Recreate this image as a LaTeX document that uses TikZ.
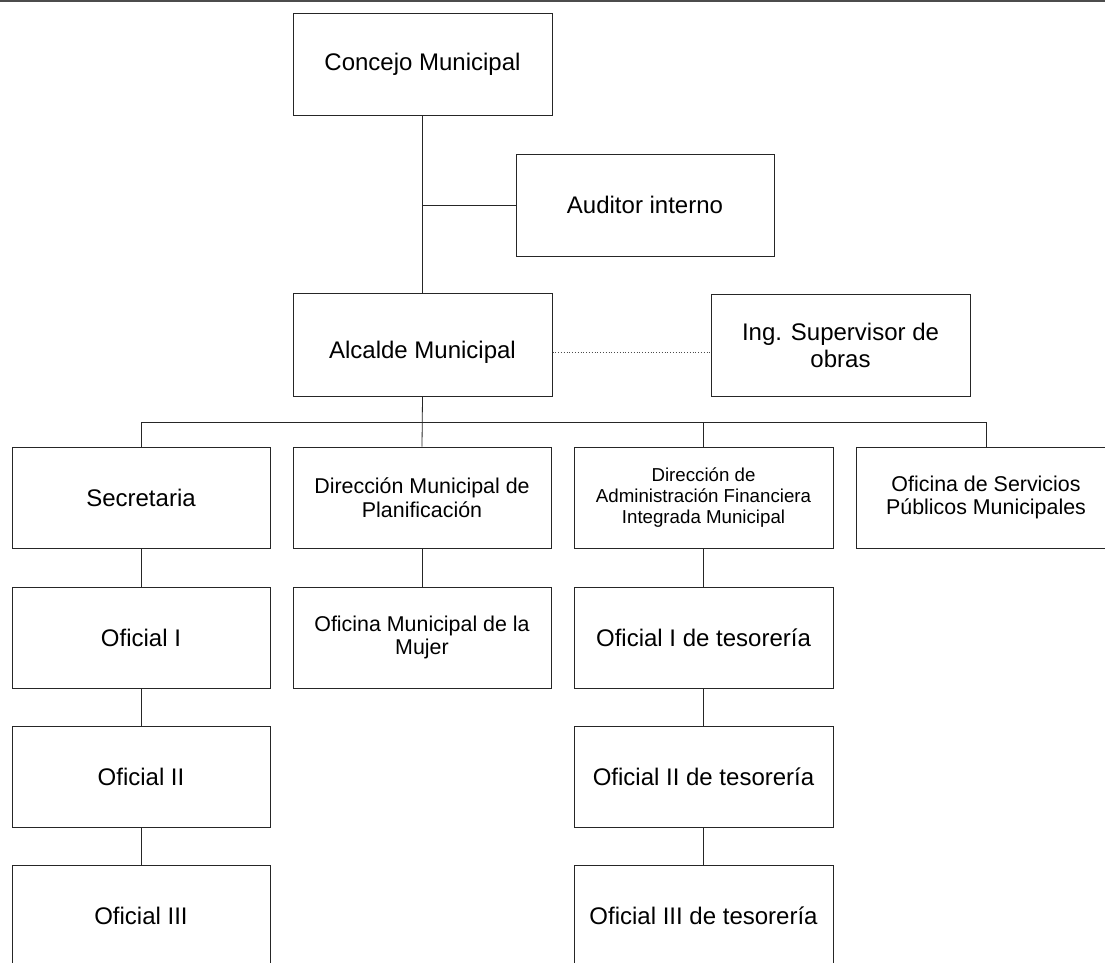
\documentclass[tikz,border=0pt]{standalone}
\usepackage{fontspec}
\setmainfont{Liberation Sans}
\begin{document}
\begin{tikzpicture}[x=1pt,y=-1pt,
  box/.style={draw=black!85, line width=1pt, fill=white, inner sep=0pt,
    minimum width=259pt, minimum height=102pt, align=center,
    font=\fontsize{24}{27}\selectfont},
  midtext/.style={font=\fontsize{21.4}{23.5}\selectfont},
  smalltext/.style={font=\fontsize{18.7}{21.3}\selectfont},
  link/.style={draw=black!85, line width=0.8pt},
  dotlink/.style={draw=black!70, line width=0.8pt, dotted}]
\useasboundingbox (0,0) rectangle (1105,962);
\clip (0,0) rectangle (1105,962);
\fill[white] (0,0) rectangle (1105,962);
% rule along the top edge
\draw[black!70, line width=1.6pt] (0,1) -- (1105,1);

% top levels
\node[box] (con) at (422.5,64) {Concejo Municipal};
\node[box, minimum width=258pt] (aud) at (645,205) {Auditor interno};
\node[box, minimum height=103pt, text height=28pt, text depth=0pt] (alc) at (422.5,344.5) {Alcalde Municipal};
\node[box] (ing) at (840.5,345) {Ing. Supervisor de\\obras};

% second level
\node[box, minimum width=258pt, minimum height=101pt] (sec) at (141,497.5) {Secretaria};
\node[box, minimum width=258pt, minimum height=101pt, midtext] (dmp) at (422,497.5) {Dirección Municipal de\\Planificación};
\node[box, minimum height=101pt, smalltext] (daf) at (703.5,497.5) {Dirección de\\Administración Financiera\\Integrada Municipal};
\node[box, minimum width=260pt, minimum height=101pt, midtext] (osp) at (986,497.5) {Oficina de Servicios\\Públicos Municipales};

% third to fifth levels
\node[box, minimum width=258pt, minimum height=101pt] (of1) at (141,637.5) {Oficial I};
\node[box, minimum width=258pt, minimum height=101pt, midtext] (omm) at (422,637.5) {Oficina Municipal de la\\Mujer};
\node[box, minimum height=101pt] (ot1) at (703.5,637.5) {Oficial I de tesorería};
\node[box, minimum width=258pt, minimum height=101pt] (of2) at (141,776.5) {Oficial II};
\node[box, minimum height=101pt] (ot2) at (703.5,776.5) {Oficial II de tesorería};
\node[box, minimum width=258pt] (of3) at (141,916) {Oficial III};
\node[box] (ot3) at (703.5,916) {Oficial III de tesorería};

% connectors
\coordinate (busy) at (0,422);
\draw[link] (con.south) -- (alc.north);
\draw[link] (aud.west) -- (aud.west -| con.south);
\draw[dotlink] ([yshift=-8pt]alc.east) -- ([yshift=-8pt]alc.east -| ing.west);
\draw[link] (alc.south) -- (dmp.north);
\draw[link] (sec.north) -- (sec.north |- busy) -- (osp.north |- busy) -- (osp.north);
\draw[link] (daf.north) -- (daf.north |- busy);
\draw[link] (sec.south) -- (of1.north);
\draw[link] (of1.south) -- (of2.north);
\draw[link] (of2.south) -- (of3.north);
\draw[link] (dmp.south) -- (omm.north);
\draw[link] (daf.south) -- (ot1.north);
\draw[link] (ot1.south) -- (ot2.north);
\draw[link] (ot2.south) -- (ot3.north);
\end{tikzpicture}
\end{document}
